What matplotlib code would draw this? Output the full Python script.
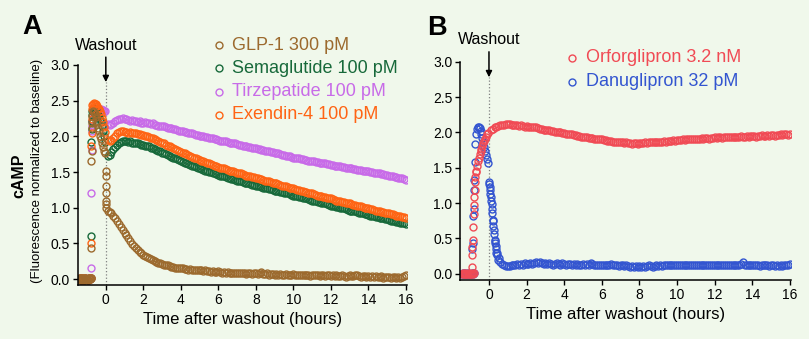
import numpy as np
import matplotlib.pyplot as plt
from matplotlib.ticker import FormatStrFormatter

plt.rcParams['font.family'] = ['Liberation Sans', 'DejaVu Sans']

# time grids (hours relative to washout)
t_base = np.round(np.arange(-1.45, -0.79, 0.05), 2)
t_rise = [-0.77, -0.765, -0.76, -0.755, -0.75, -0.745]
t_peak = np.round(np.arange(-0.70, -0.04, 0.05), 2)
t_post = np.round(np.arange(0.1, 16.05, 0.1), 2)

# baseline before agonist addition (shared by all traces)
base = [0.00, 0.01, -0.01, 0.00, 0.01, 0.00, -0.01, 0.01, 0.00, 0.00, -0.01, 0.01, 0.00, 0.01]

# ---- panel A: peptide agonists ----
glp1_rise = [0.43, 1.65, 1.79, 2.12, 2.18, 2.28]
glp1_peak = [2.36, 2.34, 2.31, 2.27, 2.22, 2.18, 2.12, 2.07, 2.01, 1.96, 1.90, 1.85, 1.80, 1.76]
glp1_drop_t = [0.0, 0.0, 0.0, 0.0, 0.0, 0.01, 0.02]
glp1_drop = [1.52, 1.45, 1.31, 1.20, 1.10, 1.05, 1.00]
glp1_post = [
    0.96, 0.94, 0.92, 0.89, 0.85, 0.81, 0.77, 0.73, 0.69, 0.65,
    0.61, 0.57, 0.53, 0.49, 0.46, 0.43, 0.41, 0.38, 0.36, 0.34,
    0.32, 0.31, 0.29, 0.28, 0.27, 0.25, 0.24, 0.23, 0.22, 0.21,
    0.20, 0.20, 0.19, 0.18, 0.17, 0.17, 0.16, 0.16, 0.15, 0.15,
    0.15, 0.14, 0.14, 0.13, 0.14, 0.13, 0.12, 0.13, 0.12, 0.12,
    0.12, 0.11, 0.12, 0.11, 0.11, 0.10, 0.11, 0.10, 0.10, 0.11,
    0.10, 0.09, 0.10, 0.09, 0.10, 0.09, 0.08, 0.09, 0.09, 0.08,
    0.09, 0.08, 0.08, 0.09, 0.07, 0.08, 0.08, 0.07, 0.08, 0.08,
    0.07, 0.08, 0.10, 0.07, 0.07, 0.08, 0.06, 0.07, 0.07, 0.06,
    0.07, 0.06, 0.07, 0.06, 0.06, 0.07, 0.05, 0.06, 0.06, 0.07,
    0.06, 0.05, 0.06, 0.05, 0.06, 0.05, 0.06, 0.05, 0.04, 0.05,
    0.05, 0.06, 0.05, 0.04, 0.05, 0.05, 0.04, 0.05, 0.05, 0.04,
    0.05, 0.04, 0.05, 0.04, 0.04, 0.05, 0.04, 0.03, 0.04, 0.05,
    0.04, 0.04, 0.05, 0.06, 0.04, 0.03, 0.04, 0.04, 0.03, 0.04,
    0.03, 0.04, 0.03, 0.04, 0.03, 0.03, 0.04, 0.02, 0.03, 0.03,
    0.03, 0.02, 0.03, 0.03, 0.02, 0.03, 0.02, 0.03, 0.04, 0.06,
]

sema_rise = [0.60, 1.92, 2.10, 2.22, 2.30, 2.35]
sema_peak = [2.38, 2.40, 2.39, 2.37, 2.35, 2.33, 2.30, 2.27, 2.24, 2.20, 2.14, 2.08, 2.01, 1.92]
sema_post = [
    1.72, 1.74, 1.78, 1.82, 1.85, 1.88, 1.90, 1.92, 1.93, 1.94,
    1.93, 1.92, 1.93, 1.91, 1.91, 1.90, 1.91, 1.89, 1.88, 1.88,
    1.87, 1.86, 1.86, 1.84, 1.83, 1.82, 1.81, 1.80, 1.79, 1.77,
    1.76, 1.75, 1.74, 1.73, 1.71, 1.70, 1.69, 1.68, 1.67, 1.65,
    1.64, 1.63, 1.62, 1.61, 1.60, 1.59, 1.58, 1.57, 1.56, 1.55,
    1.54, 1.53, 1.52, 1.51, 1.50, 1.50, 1.49, 1.48, 1.47, 1.46,
    1.45, 1.44, 1.44, 1.43, 1.42, 1.41, 1.40, 1.40, 1.39, 1.38,
    1.37, 1.37, 1.36, 1.35, 1.35, 1.34, 1.33, 1.32, 1.32, 1.31,
    1.30, 1.30, 1.29, 1.28, 1.28, 1.27, 1.26, 1.26, 1.25, 1.24,
    1.24, 1.23, 1.22, 1.22, 1.21, 1.20, 1.20, 1.19, 1.18, 1.17,
    1.17, 1.16, 1.15, 1.15, 1.14, 1.13, 1.13, 1.12, 1.11, 1.10,
    1.10, 1.09, 1.08, 1.08, 1.07, 1.06, 1.06, 1.05, 1.04, 1.03,
    1.03, 1.02, 1.01, 1.01, 1.00, 0.99, 0.99, 0.98, 0.97, 0.96,
    0.96, 0.95, 0.95, 0.94, 0.93, 0.93, 0.92, 0.91, 0.91, 0.90,
    0.89, 0.89, 0.88, 0.87, 0.87, 0.86, 0.86, 0.85, 0.84, 0.84,
    0.83, 0.82, 0.82, 0.81, 0.80, 0.80, 0.79, 0.78, 0.78, 0.77,
]

tirz_rise = [0.15, 1.20, 1.81, 2.08, 2.15, 2.22]
tirz_peak = [2.30, 2.33, 2.34, 2.35, 2.35, 2.36, 2.36, 2.37, 2.37, 2.38, 2.37, 2.37, 2.36, 2.35]
tirz_post = [
    2.17, 2.16, 2.17, 2.19, 2.21, 2.23, 2.24, 2.25, 2.26, 2.24,
    2.24, 2.23, 2.22, 2.23, 2.21, 2.21, 2.20, 2.21, 2.19, 2.19,
    2.20, 2.18, 2.18, 2.17, 2.18, 2.16, 2.16, 2.15, 2.15, 2.14,
    2.14, 2.13, 2.12, 2.12, 2.11, 2.10, 2.10, 2.09, 2.08, 2.07,
    2.07, 2.06, 2.06, 2.05, 2.04, 2.04, 2.03, 2.02, 2.02, 2.01,
    2.00, 2.00, 1.99, 1.99, 1.98, 1.97, 1.97, 1.96, 1.96, 1.95,
    1.94, 1.94, 1.93, 1.93, 1.92, 1.91, 1.91, 1.90, 1.90, 1.89,
    1.88, 1.88, 1.87, 1.87, 1.86, 1.85, 1.85, 1.84, 1.84, 1.83,
    1.82, 1.82, 1.81, 1.81, 1.80, 1.79, 1.79, 1.78, 1.78, 1.77,
    1.76, 1.76, 1.75, 1.74, 1.74, 1.73, 1.72, 1.72, 1.71, 1.70,
    1.70, 1.69, 1.69, 1.68, 1.68, 1.67, 1.67, 1.66, 1.66, 1.65,
    1.65, 1.64, 1.64, 1.63, 1.63, 1.62, 1.62, 1.61, 1.61, 1.60,
    1.60, 1.59, 1.59, 1.58, 1.58, 1.57, 1.57, 1.56, 1.56, 1.55,
    1.55, 1.54, 1.54, 1.53, 1.53, 1.53, 1.52, 1.52, 1.51, 1.51,
    1.50, 1.50, 1.49, 1.49, 1.48, 1.48, 1.47, 1.47, 1.46, 1.46,
    1.45, 1.45, 1.44, 1.43, 1.43, 1.42, 1.42, 1.41, 1.40, 1.39,
]

exen_rise = [0.51, 1.86, 2.05, 2.25, 2.38, 2.44]
exen_peak = [2.45, 2.47, 2.46, 2.45, 2.43, 2.42, 2.40, 2.38, 2.35, 2.31, 2.26, 2.20, 2.13, 2.06]
exen_post = [
    1.95, 1.93, 1.95, 1.98, 2.01, 2.04, 2.06, 2.07, 2.07, 2.06,
    2.06, 2.05, 2.06, 2.05, 2.04, 2.04, 2.03, 2.03, 2.02, 2.02,
    2.01, 2.00, 1.99, 1.98, 1.97, 1.96, 1.95, 1.93, 1.92, 1.91,
    1.90, 1.88, 1.87, 1.86, 1.85, 1.83, 1.82, 1.81, 1.79, 1.78,
    1.77, 1.76, 1.75, 1.74, 1.72, 1.71, 1.70, 1.69, 1.68, 1.67,
    1.66, 1.65, 1.64, 1.63, 1.62, 1.61, 1.60, 1.59, 1.58, 1.57,
    1.56, 1.55, 1.55, 1.54, 1.53, 1.52, 1.51, 1.51, 1.50, 1.49,
    1.48, 1.48, 1.47, 1.46, 1.45, 1.45, 1.44, 1.43, 1.43, 1.42,
    1.41, 1.40, 1.40, 1.39, 1.38, 1.37, 1.37, 1.36, 1.35, 1.34,
    1.34, 1.33, 1.32, 1.31, 1.31, 1.30, 1.29, 1.28, 1.28, 1.27,
    1.26, 1.25, 1.25, 1.24, 1.23, 1.22, 1.22, 1.21, 1.20, 1.20,
    1.19, 1.18, 1.17, 1.17, 1.16, 1.15, 1.15, 1.14, 1.13, 1.13,
    1.12, 1.11, 1.10, 1.10, 1.09, 1.08, 1.08, 1.07, 1.06, 1.06,
    1.05, 1.04, 1.04, 1.03, 1.02, 1.02, 1.01, 1.00, 1.00, 0.99,
    0.98, 0.98, 0.97, 0.96, 0.96, 0.95, 0.94, 0.94, 0.93, 0.93,
    0.92, 0.91, 0.91, 0.90, 0.89, 0.89, 0.88, 0.87, 0.87, 0.86,
]

# ---- panel B: small-molecule agonists ----
orfo_rise_t = [-0.92, -0.90, -0.88, -0.86, -0.84, -0.82, -0.80, -0.78, -0.76, -0.74, -0.72, -0.70]
orfo_rise = [0.10, 0.26, 0.38, 0.47, 0.66, 0.85, 0.97, 1.09, 1.18, 1.30, 1.37, 1.44]
orfo_peak = [1.46, 1.53, 1.59, 1.64, 1.69, 1.73, 1.77, 1.81, 1.85, 1.88, 1.91, 1.94, 1.97, 1.99]
orfo_post = [
    2.03, 2.05, 2.07, 2.08, 2.09, 2.10, 2.11, 2.11, 2.12, 2.12,
    2.12, 2.11, 2.11, 2.10, 2.10, 2.09, 2.10, 2.09, 2.08, 2.09,
    2.08, 2.07, 2.08, 2.07, 2.08, 2.06, 2.05, 2.05, 2.04, 2.04,
    2.03, 2.03, 2.02, 2.02, 2.01, 2.01, 2.00, 2.00, 1.99, 1.99,
    1.98, 1.98, 1.97, 1.97, 1.96, 1.96, 1.95, 1.95, 1.94, 1.94,
    1.93, 1.93, 1.92, 1.92, 1.92, 1.91, 1.91, 1.90, 1.90, 1.90,
    1.89, 1.89, 1.88, 1.88, 1.88, 1.87, 1.87, 1.87, 1.86, 1.86,
    1.86, 1.85, 1.86, 1.85, 1.85, 1.84, 1.85, 1.85, 1.84, 1.85,
    1.85, 1.85, 1.86, 1.85, 1.86, 1.86, 1.86, 1.87, 1.86, 1.87,
    1.87, 1.87, 1.88, 1.87, 1.88, 1.88, 1.88, 1.89, 1.88, 1.89,
    1.89, 1.89, 1.90, 1.89, 1.90, 1.90, 1.90, 1.91, 1.90, 1.91,
    1.91, 1.91, 1.92, 1.91, 1.92, 1.92, 1.91, 1.92, 1.92, 1.93,
    1.92, 1.93, 1.93, 1.92, 1.93, 1.94, 1.93, 1.94, 1.93, 1.94,
    1.94, 1.94, 1.93, 1.95, 1.94, 1.94, 1.95, 1.94, 1.95, 1.95,
    1.95, 1.94, 1.95, 1.95, 1.96, 1.95, 1.95, 1.96, 1.95, 1.96,
    1.96, 1.95, 1.96, 1.96, 1.97, 1.96, 1.97, 1.97, 1.96, 1.97,
]

danu_rise_t = [-0.88, -0.86, -0.84, -0.82, -0.80, -0.78, -0.76, -0.74]
danu_rise = [0.35, 0.43, 0.81, 0.92, 1.18, 1.33, 1.58, 1.84]
danu_peak = [1.98, 2.05, 2.08, 2.08, 2.06, 2.02, 1.97, 1.92, 1.86, 1.80, 1.74, 1.68, 1.62, 1.56]
danu_drop_t = [0.0, 0.02, 0.04, 0.06, 0.08, 0.12, 0.14, 0.16, 0.18, 0.22,
               0.24, 0.26, 0.28, 0.32, 0.34, 0.36, 0.38, 0.42, 0.45, 0.55]
danu_drop = [1.30, 1.27, 1.23, 1.18, 1.13, 1.03, 0.98, 0.92, 0.86, 0.74,
             0.68, 0.62, 0.56, 0.48, 0.43, 0.39, 0.35, 0.29, 0.26, 0.22]
danu_post = [
    1.08, 0.76, 0.46, 0.29, 0.20, 0.16, 0.14, 0.12, 0.11, 0.11,
    0.11, 0.12, 0.13, 0.12, 0.14, 0.13, 0.14, 0.13, 0.15, 0.14,
    0.14, 0.15, 0.14, 0.15, 0.16, 0.15, 0.16, 0.15, 0.14, 0.15,
    0.14, 0.15, 0.14, 0.13, 0.14, 0.15, 0.14, 0.13, 0.15, 0.14,
    0.13, 0.14, 0.14, 0.13, 0.14, 0.13, 0.14, 0.13, 0.13, 0.14,
    0.13, 0.14, 0.13, 0.15, 0.14, 0.13, 0.12, 0.13, 0.12, 0.13,
    0.12, 0.13, 0.12, 0.13, 0.14, 0.12, 0.13, 0.12, 0.11, 0.12,
    0.12, 0.11, 0.12, 0.11, 0.10, 0.11, 0.10, 0.11, 0.10, 0.11,
    0.10, 0.11, 0.10, 0.11, 0.12, 0.11, 0.10, 0.11, 0.12, 0.11,
    0.12, 0.11, 0.12, 0.13, 0.12, 0.13, 0.12, 0.13, 0.12, 0.13,
    0.12, 0.13, 0.12, 0.13, 0.12, 0.13, 0.12, 0.12, 0.13, 0.12,
    0.13, 0.12, 0.13, 0.12, 0.13, 0.12, 0.13, 0.12, 0.12, 0.13,
    0.12, 0.13, 0.12, 0.13, 0.13, 0.12, 0.13, 0.12, 0.13, 0.12,
    0.13, 0.12, 0.13, 0.14, 0.17, 0.13, 0.12, 0.13, 0.12, 0.13,
    0.12, 0.13, 0.12, 0.11, 0.12, 0.13, 0.12, 0.12, 0.11, 0.12,
    0.12, 0.11, 0.12, 0.11, 0.12, 0.11, 0.12, 0.12, 0.13, 0.14,
]

BG = '#F0F8EB'
C_GLP1 = '#9C6A2E'
C_SEMA = '#17693A'
C_TIRZ = '#C86BE8'
C_EXEN = '#FF6414'
C_ORFO = '#F04B55'
C_DANU = '#3355D0'
MS, MEW = 5.0, 1.0

W, H = 809, 339
fig = plt.figure(figsize=(W / 100, H / 100), dpi=100, facecolor=BG)
ax_a = fig.add_axes([77.7 / W, 1 - 285 / H, 329 / W, 220 / H])
ax_b = fig.add_axes([460 / W, 1 - 280 / H, 330.7 / W, 218.3 / H])


def rings(ax, t, v, color):
    ax.plot(t, v, 'o', ms=MS, mfc='none', mec=color, mew=MEW, linestyle='none')


def trace(ax, color, rise_t, rise, peak, post, extra_t=None, extra=None):
    rings(ax, t_base, base, color)
    rings(ax, rise_t, rise, color)
    rings(ax, t_peak, peak, color)
    if extra_t is not None:
        rings(ax, extra_t, extra, color)
    rings(ax, t_post, post, color)


trace(ax_a, C_TIRZ, t_rise, tirz_rise, tirz_peak, tirz_post)
trace(ax_a, C_SEMA, t_rise, sema_rise, sema_peak, sema_post)
trace(ax_a, C_EXEN, t_rise, exen_rise, exen_peak, exen_post)
trace(ax_a, C_GLP1, t_rise, glp1_rise, glp1_peak, glp1_post, glp1_drop_t, glp1_drop)

trace(ax_b, C_DANU, danu_rise_t, danu_rise, danu_peak, danu_post, danu_drop_t, danu_drop)
trace(ax_b, C_ORFO, orfo_rise_t, orfo_rise, orfo_peak, orfo_post)


def style(ax, xlim, ylim, tip, tail, label_y):
    ax.set_facecolor(BG)
    ax.set_xlim(*xlim)
    ax.set_ylim(*ylim)
    for s in ('top', 'right'):
        ax.spines[s].set_visible(False)
    for s in ('left', 'bottom'):
        ax.spines[s].set_linewidth(1.1)
    ax.set_xticks(range(0, 17, 2))
    ax.set_yticks(np.arange(0, 3.01, 0.5))
    ax.yaxis.set_major_formatter(FormatStrFormatter('%.1f'))
    ax.tick_params(direction='out', length=3.5, width=1, labelsize=10, pad=2)
    ax.set_xlabel('Time after washout (hours)', fontsize=12, labelpad=4)
    # washout marker
    ax.plot([0, 0], [ylim[0], tip], ls=':', color='#808080', lw=0.9, zorder=0)
    ax.annotate('', xy=(0, tip), xytext=(0, tail), annotation_clip=False,
                arrowprops=dict(arrowstyle='-|>', color='black', lw=1.1,
                                mutation_scale=9, shrinkA=0, shrinkB=0))
    ax.text(0, label_y, 'Washout', ha='center', va='center', fontsize=11.5,
            clip_on=False)


style(ax_a, (-1.5, 16.05), (-0.084, 3.0), 2.76, 3.11, 3.28)
style(ax_b, (-1.54, 16.04), (-0.089, 3.0), 2.78, 3.14, 3.31)


def legend(entries, x_mark, x_text, y0, step):
    for i, (label, color) in enumerate(entries):
        y = 1 - (y0 + step * i) / H
        fig.lines.append(plt.Line2D([x_mark / W], [y], marker='o', ms=MS, mfc='none',
                                    mec=color, mew=MEW, transform=fig.transFigure))
        fig.text(x_text / W, y, label, color=color, fontsize=13, va='center', ha='left')


legend([('GLP-1 300 pM', C_GLP1), ('Semaglutide 100 pM', C_SEMA),
        ('Tirzepatide 100 pM', C_TIRZ), ('Exendin-4 100 pM', C_EXEN)],
       219, 232, 45, 23.3)
legend([('Orforglipron 3.2 nM', C_ORFO), ('Danuglipron 32 pM', C_DANU)],
       572, 586, 58, 23.5)

# panel letters and shared y label
fig.text(22 / W, 1 - 34 / H, 'A', fontsize=19.5, fontweight='bold', va='baseline')
fig.text(427 / W, 1 - 35 / H, 'B', fontsize=19.5, fontweight='bold', va='baseline')
fig.text(19 / W, 1 - 176 / H, 'cAMP', rotation=90, ha='center', va='center',
         fontsize=11.5, fontweight='bold')
fig.text(37 / W, 1 - 171 / H, '(Fluorescence normalized to baseline)', rotation=90,
         ha='center', va='center', fontsize=9.5)

fig.savefig('out.png', dpi=100, facecolor=BG)
